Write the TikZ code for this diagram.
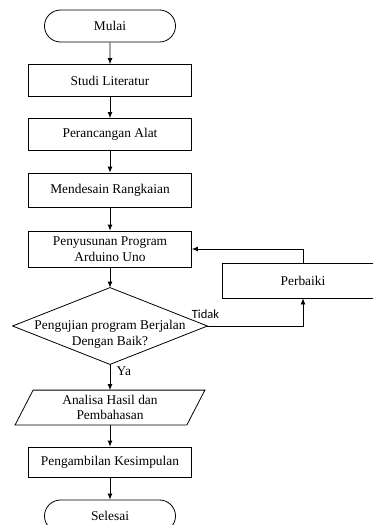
\documentclass[tikz,border=0pt]{standalone}
\usepackage{fontspec}
\setmainfont{Liberation Serif}
\newfontfamily\calibri{Carlito}
\usetikzlibrary{shapes.misc,arrows.meta}

\begin{document}
\begin{tikzpicture}[x=1pt, y=-1pt,
    proses/.style={draw, line width=0.8pt, minimum width=163pt, minimum height=32pt,
        inner sep=0pt, align=center, font=\fontsize{13.4}{15.6}\selectfont},
    terminal/.style={proses, rounded rectangle, minimum width=131pt},
    kosong/.style={proses, draw=none}]

    \useasboundingbox (0,0) rectangle (373,525);
    \clip (0,0) rectangle (373,525);

    \node[terminal] (mulai) at (110,26) {Mulai};
    \node[proses] (studi) at (110,80.5) {Studi Literatur};
    \node[proses] (rancang) at (110,134.5) {Perancangan Alat};
    \node[proses, minimum height=34pt] (desain) at (110,190) {Mendesain Rangkaian};
    \node[proses, minimum height=36pt] (susun) at (110,249) {Penyusunan Program\\Arduino Uno};
    \node[kosong, minimum width=194pt, minimum height=76pt] (uji) at (110,326) {};
    \node[kosong] (ujiteks) at (110,334) {Pengujian program Berjalan\\Dengan Baik?};
    \node[proses, minimum width=162pt, minimum height=35pt] (perbaiki) at (303,280.5) {Perbaiki};
    \node[kosong, minimum width=171pt, minimum height=34pt] (analisa) at (110,407.5) {Analisa Hasil dan\\Pembahasan};
    \node[proses, minimum height=30pt] (simpul) at (110,462) {Pengambilan Kesimpulan};
    \node[terminal] (selesai) at (110,516) {Selesai};

    \draw[line width=0.8pt] (uji.west) -- (uji.north) -- (uji.east) -- (uji.south) -- cycle;
    \draw[line width=0.8pt] ([xshift=9pt]analisa.north west) -- ([xshift=9pt]analisa.north east)
        -- ([xshift=-9pt]analisa.south east) -- ([xshift=-9pt]analisa.south west) -- cycle;

    \draw[->,>={Latex[length=6pt,width=5pt]},line width=0.8pt] (mulai) -- (studi);
    \draw[->,>={Latex[length=6pt,width=5pt]},line width=0.8pt] (studi) -- (rancang);
    \draw[->,>={Latex[length=6pt,width=5pt]},line width=0.8pt] (rancang) -- (desain);
    \draw[->,>={Latex[length=6pt,width=5pt]},line width=0.8pt] (desain) -- (susun);
    \draw[->,>={Latex[length=6pt,width=5pt]},line width=0.8pt] (susun) -- (uji.north);
    \draw[->,>={Latex[length=6pt,width=5pt]},line width=0.8pt] (uji.east) -| node[pos=0, above, xshift=-2pt, yshift=4pt, font=\calibri\fontsize{12.5}{14}\selectfont] (tidak) {Tidak} (perbaiki.south);
    \draw[->,>={Latex[length=6pt,width=5pt]},line width=0.8pt] (perbaiki.north) |- (susun.east);
    \draw[->,>={Latex[length=6pt,width=5pt]},line width=0.8pt] (uji.south) -- node[pos=0.27, right, xshift=3pt, font=\fontsize{13.4}{15.6}\selectfont] (ya) {Ya} (analisa.north);
    \draw[->,>={Latex[length=6pt,width=5pt]},line width=0.8pt] (analisa) -- (simpul);
    \draw[->,>={Latex[length=6pt,width=5pt]},line width=0.8pt] (simpul) -- (selesai);
\end{tikzpicture}
\end{document}
